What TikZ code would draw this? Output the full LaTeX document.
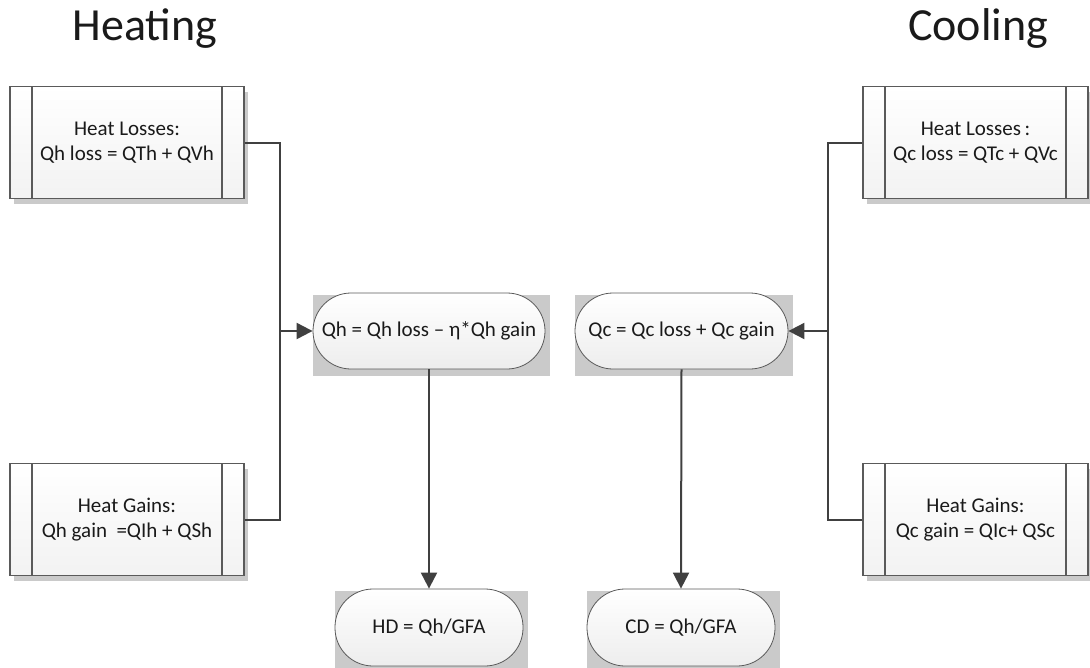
\documentclass[tikz,border=0pt]{standalone}
\usepackage{fontspec}
\setmainfont{Carlito}
\usetikzlibrary{arrows.meta,shadows,backgrounds,calc}
\definecolor{linegray}{HTML}{404040}
\definecolor{edgegray}{HTML}{5A5A5A}
\definecolor{shadowgray}{HTML}{CACACA}
\definecolor{textgray}{HTML}{1A1A1A}

\begin{document}
\begin{tikzpicture}[x=0.75pt,y=-0.75pt,
  every node/.style={text=textgray},
  lbl/.style={font=\fontsize{15.75}{18.75}\selectfont, align=center},
  procbox/.style={lbl, draw=edgegray, line width=0.8pt,
    top color=white, bottom color=black!5,
    minimum height=84pt, inner sep=0pt,
    drop shadow={shadow xshift=3pt, shadow yshift=-3.75pt, fill=shadowgray, opacity=1},
    path picture={
      \draw[edgegray, line width=0.8pt]
        ([xshift=16.5pt]path picture bounding box.north west) --
        ([xshift=16.5pt]path picture bounding box.south west);
      \draw[edgegray, line width=0.8pt]
        ([xshift=-16.5pt]path picture bounding box.north east) --
        ([xshift=-16.5pt]path picture bounding box.south east);
    }},
  pill/.style={lbl, draw=edgegray, line width=0.6pt,
    top color=white, bottom color=black!7,
    rounded corners=28.5pt, minimum height=57pt, inner sep=0pt},
  conn/.style={draw=linegray, line width=1.5pt},
  arr/.style={conn, -{Triangle[length=12pt, width=12pt]}},
  title/.style={font=\fontsize{34.5}{40}\selectfont, anchor=base}]

\useasboundingbox (0,0) rectangle (1090,668);

% headings
\node[title] (th) at (145,40) {Heating};
\node[title] (tc) at (978,40) {Cooling};

% heating inputs
\node[procbox, minimum width=175.5pt] (hl) at (127,142.5)
  {Heat Losses:\\Qh loss = QTh + QVh};
\node[procbox, minimum width=175.5pt] (hg) at (127,519.5)
  {Heat Gains:\\Qh gain\hspace{0.45em}=QIh + QSh};

% cooling inputs
\node[procbox, minimum width=168.75pt] (cl) at (975.5,142.5)
  {Heat Losses\,:\\Qc loss = QTc + QVc};
\node[procbox, minimum width=168.75pt] (cg) at (975.5,519.5)
  {Heat Gains:\\Qc gain = QIc+ QSc};

% balances
\node[pill, minimum width=174pt] (qh) at (429,331) {Qh = Qh loss – η*Qh gain};
\node[pill, minimum width=159.75pt] (qc) at (681.5,331) {Qc = Qc loss + Qc gain};

% demands
\node[pill, minimum width=141pt, minimum height=57.75pt] (hd) at (429,627.5) {HD = Qh/GFA};
\node[pill, minimum width=141pt, minimum height=57.75pt] (cd) at (681,627.5) {CD = Qh/GFA};

% rectangular shadows behind the rounded shapes
\begin{scope}[on background layer]
  \foreach \n in {qh,qc,hd,cd}
    \fill[shadowgray] ($(\n.north west)+(0,2)$) rectangle ($(\n.south east)+(5,7)$);
\end{scope}

% connectors
\coordinate (jl) at (280,331);
\coordinate (jr) at (828,331);
\draw[conn] (hl.east) -| (jl);
\draw[conn] (hg.east) -| (jl);
\draw[arr] (jl) -- (qh.west);
\draw[conn] (cl.west) -| (jr);
\draw[conn] (cg.west) -| (jr);
\draw[arr] (jr) -- (qc.east);
\draw[arr] (qh.south) -- (hd.north);
\draw[arr] (qc.south) -- (cd.north);

\end{tikzpicture}
\end{document}
